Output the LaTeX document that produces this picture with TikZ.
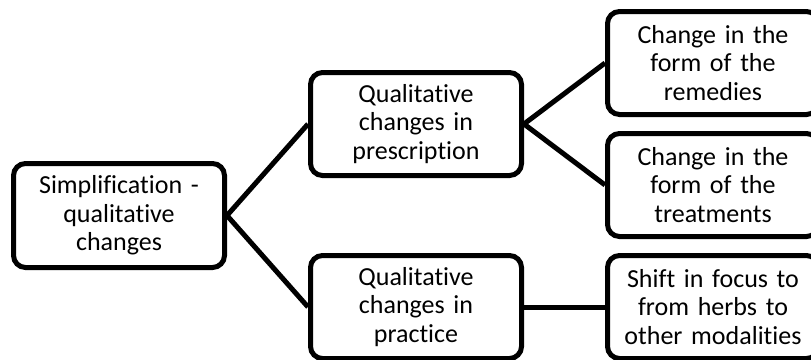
\documentclass[tikz,border=0pt]{standalone}
\usepackage{fontspec}
\setmainfont{Carlito}[Ligatures=NoCommon]
\begin{document}
\begin{tikzpicture}[x=1pt,y=-1pt,
  box/.style={draw=black, line width=5pt, rounded corners=12pt, fill=white,
    minimum width=211pt, minimum height=103pt, text width=205pt, align=center,
    inner sep=0pt, font=\fontsize{26}{28.5}\selectfont},
  link/.style={draw=black, line width=5pt}]
\clip (0,0) rectangle (811,359);
\useasboundingbox (0,0) rectangle (811,359);
\node[box, minimum height=104pt] (root) at (119,215.5) {Simplification -\\qualitative\\changes};
\node[box] (pres) at (416,124) {Qualitative\\changes in\\prescription};
\node[box] (prac) at (416,307) {Qualitative\\changes in\\practice};
\node[box] (rem) at (713,63) {Change in the\\form of the\\remedies};
\node[box] (tre) at (713,185) {Change in the\\form of the\\treatments};
\node[box] (shi) at (713,307) {Shift in focus to\\from herbs to\\other modalities};
\draw[link] (root.east) -- (pres.west);
\draw[link] (root.east) -- (prac.west);
\draw[link] (pres.east) -- (rem.west);
\draw[link] (pres.east) -- (tre.west);
\draw[link] (prac.east) -- (shi.west);
\end{tikzpicture}
\end{document}
